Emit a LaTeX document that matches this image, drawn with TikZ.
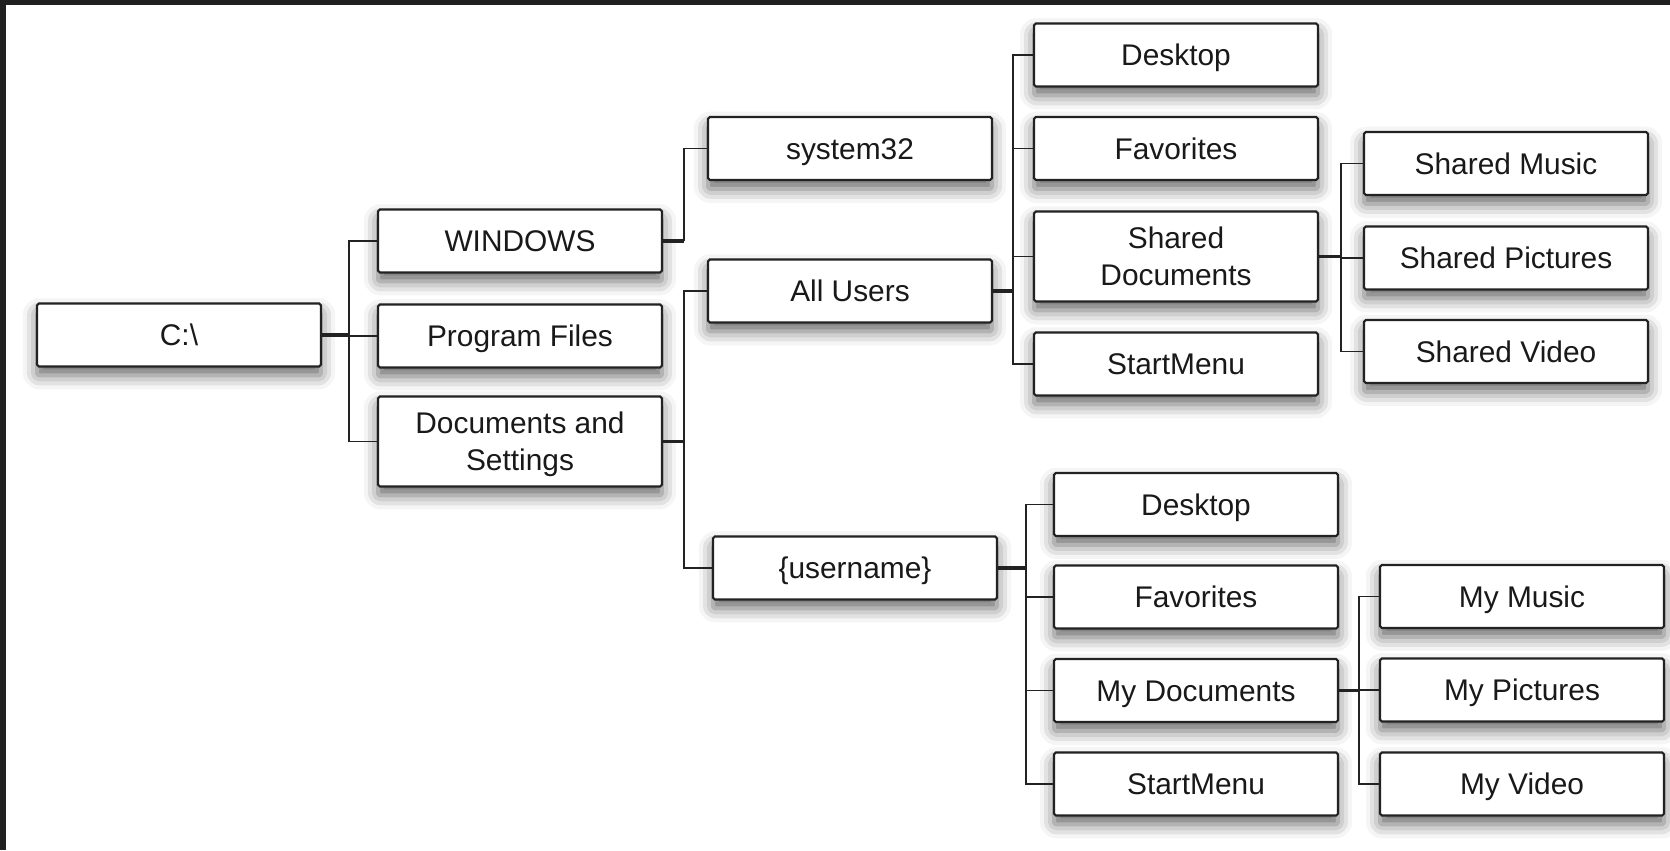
\documentclass[tikz,border=0pt]{standalone}
\usepackage{fontspec}
\setmainfont{Liberation Sans}
\usetikzlibrary{shadows.blur}

\definecolor{framegray}{HTML}{202020}
\definecolor{boxline}{HTML}{222222}

\tikzset{
  folder/.style={draw=boxline, line width=1.2pt, fill=white, rounded corners=1pt,
    minimum width=5.68cm, minimum height=1.26cm, align=center,
    font=\fontsize{17}{21}\selectfont, text=black!90,
    text height=12pt, text depth=0pt,
    blur shadow={shadow xshift=0pt, shadow yshift=-5pt,
      shadow blur radius=8pt, shadow opacity=60}},
  tallfolder/.style={folder, minimum height=1.8cm, text height=33pt},
  stub/.style={line width=1.8pt, draw=boxline},
  branch/.style={line width=1.1pt, draw=boxline},
}

\begin{document}
\begin{tikzpicture}[x=0.02cm, y=-0.02cm]
  % dark frame on top and left
  \useasboundingbox (0,0) rectangle (1670,850);
  \fill[framegray] (0,0) rectangle (1670,5);
  \fill[framegray] (0,0) rectangle (6,850);

  % first levels
  \node[folder] (root) at (179,335) {C:\textbackslash};
  \node[folder] (windows) at (520,241) {WINDOWS};
  \node[folder] (progfiles) at (520,336) {Program Files};
  \node[tallfolder] (docset) at (520,441.5) {Documents and\\Settings};
  \node[folder] (system32) at (850,148.5) {system32};
  \node[folder] (allusers) at (850,291) {All Users};
  \node[folder] (username) at (855,568) {\{username\}};

  % All Users
  \node[folder] (audesktop) at (1176,55) {Desktop};
  \node[folder] (aufav) at (1176,148.5) {Favorites};
  \node[tallfolder] (shareddocs) at (1176,256.5) {Shared\\Documents};
  \node[folder] (austart) at (1176,364) {StartMenu};
  \node[folder] (smusic) at (1506,163.5) {Shared Music};
  \node[folder] (spictures) at (1506,258) {Shared Pictures};
  \node[folder] (svideo) at (1506,351.5) {Shared Video};

  % {username}
  \node[folder] (udesktop) at (1196,504.5) {Desktop};
  \node[folder] (ufav) at (1196,597) {Favorites};
  \node[folder] (mydocs) at (1196,690.5) {My Documents};
  \node[folder] (ustart) at (1196,784) {StartMenu};
  \node[folder] (mmusic) at (1522,596.5) {My Music};
  \node[folder] (mpictures) at (1522,690) {My Pictures};
  \node[folder] (mvideo) at (1522,784) {My Video};

  % connectors: parent stub, then elbow to each child
  \draw[stub] (root.east) -- ++(27,0);
  \foreach \kid in {windows,progfiles,docset}
    \draw[branch] (root.east) ++(27,0) |- (\kid.west);

  \draw[stub] (windows.east) -- ++(21,0);
  \draw[branch] (windows.east) ++(21,0) |- (system32.west);

  \draw[stub] (docset.east) -- ++(21,0);
  \foreach \kid in {allusers,username}
    \draw[branch] (docset.east) ++(21,0) |- (\kid.west);

  \draw[stub] (allusers.east) -- ++(20,0);
  \foreach \kid in {audesktop,aufav,shareddocs,austart}
    \draw[branch] (allusers.east) ++(20,0) |- (\kid.west);

  \draw[stub] (shareddocs.east) -- ++(22,0);
  \foreach \kid in {smusic,spictures,svideo}
    \draw[branch] (shareddocs.east) ++(22,0) |- (\kid.west);

  \draw[stub] (username.east) -- ++(28,0);
  \foreach \kid in {udesktop,ufav,mydocs,ustart}
    \draw[branch] (username.east) ++(28,0) |- (\kid.west);

  \draw[stub] (mydocs.east) -- ++(20,0);
  \foreach \kid in {mmusic,mpictures,mvideo}
    \draw[branch] (mydocs.east) ++(20,0) |- (\kid.west);
\end{tikzpicture}
\end{document}
